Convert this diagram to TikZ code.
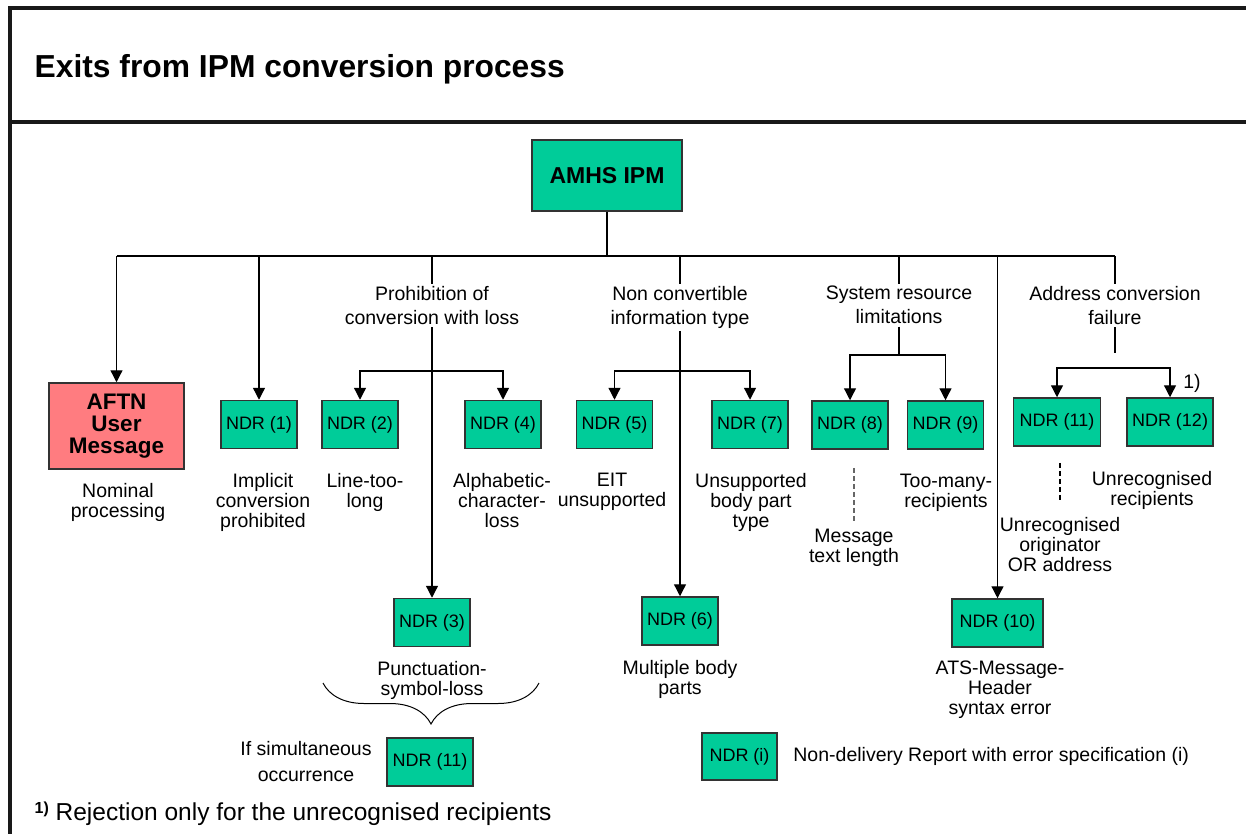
\documentclass[tikz,border=0pt]{standalone}
\usepackage{fontspec}
\setmainfont{Liberation Sans}
\usetikzlibrary{arrows.meta,decorations.pathreplacing}
\definecolor{ndrgreen}{RGB}{0,204,153}
\definecolor{aftnred}{RGB}{255,124,128}
\begin{document}
\begin{tikzpicture}[x=1pt,y=-1pt,line width=1.3pt,font=\fontsize{19.5}{20}\selectfont,
    box/.style={draw=black!80,line width=1.5pt,inner sep=0pt,minimum width=76pt,minimum height=48pt},
    ndr/.style={box,fill=ndrgreen,font=\fontsize{18}{20}\selectfont},
    exit/.style={align=center,inner sep=0pt,anchor=north,yshift=7.5pt},
    cause/.style={align=center,inner sep=2pt,anchor=north,yshift=9.5pt,font=\fontsize{19.5}{24}\selectfont},
    arr/.style={-{Triangle[length=12pt,width=12pt]}},
    hint/.style={dash pattern=on 5pt off 3pt,line width=1.2pt}]
  \useasboundingbox (0,0) rectangle (1246,834);
  \draw[line width=3.2pt,black!90] (1246,8) -- (10,8) -- (10,834);
  \draw[line width=3.2pt,black!90] (10,122) -- (1246,122);
  \node[anchor=base west,inner sep=0pt,font=\fontsize{31.8}{36}\selectfont\bfseries] (title) at (34,78) {Exits from IPM conversion process};

  \node[box,fill=ndrgreen,minimum width=150pt,minimum height=71pt,font=\fontsize{23}{26}\selectfont\bfseries] (ipm) at (607,175.5) {AMHS IPM};
  \node[box,fill=aftnred,minimum width=135pt,minimum height=86pt,align=center,font=\fontsize{22.5}{22}\selectfont\bfseries] (aftn) at (116.5,426) {AFTN\\User\\Message};
  \node[ndr] (n1) at (259,424.5) {NDR (1)};
  \node[ndr] (n2) at (360,424.5) {NDR (2)};
  \node[ndr] (n3) at (432,622.5) {NDR (3)};
  \node[ndr] (n4) at (503,424.5) {NDR (4)};
  \node[ndr] (n5) at (614.5,424.5) {NDR (5)};
  \node[ndr] (n6) at (680,621) {NDR (6)};
  \node[ndr] (n7) at (750,424.5) {NDR (7)};
  \node[ndr] (n8) at (850,425) {NDR (8)};
  \node[ndr] (n9) at (945.5,425) {NDR (9)};
  \node[ndr,minimum width=91pt] (n10) at (997.5,623) {NDR (10)};
  \node[ndr,minimum width=87pt] (n11) at (1057,422) {NDR (11)};
  \node[ndr,minimum width=86pt] (n12) at (1170,422) {NDR (12)};
  \node[ndr,minimum width=86pt] (n11b) at (430,762) {NDR (11)};
  \node[ndr,minimum width=75pt,minimum height=47pt] (key) at (739.5,756.5) {NDR (i)};

  \node[cause] (p) at (432,293) {Prohibition of\\conversion with loss};
  \node[cause] (nc) at (680,293) {Non convertible\\information type};
  \node[cause] (sr) at (899,293) {System resource\\limitations};
  \node[cause] (ac) at (1115,293) {Address conversion\\failure};

  \node[exit] (nom) at (118,490) {Nominal\\processing};
  \node[exit] (impl) at (263,480) {Implicit\\conversion\\prohibited};
  \node[exit] (ltl) at (365,480) {Line-too-\\long};
  \node[exit] (alpha) at (502,480) {Alphabetic-\\character-\\loss};
  \node[exit] (eit) at (612,480) {EIT\\unsupported};
  \node[exit] (unsup) at (751,480) {Unsupported\\body part\\type};
  \node[exit] (msg) at (854,536) {Message\\text length};
  \node[exit] (tmr) at (946,481) {Too-many-\\recipients};
  \node[exit] (orig) at (1060,524) {Unrecognised\\originator\\OR address};
  \node[exit] (urec) at (1152,478) {Unrecognised\\recipients};
  \node[exit] (punct) at (432,668) {Punctuation-\\symbol-loss};
  \node[exit] (multi) at (680,667) {Multiple body\\parts};
  \node[exit] (ats) at (1000,668) {ATS-Message-\\Header\\syntax error};

  \node (note) at (1192,383) {1)};
  \node[anchor=east,align=center,inner sep=0pt,font=\fontsize{19.5}{26}\selectfont] (simul) at ([xshift=-14pt]n11b.west) {If simultaneous\\occurrence};
  \node[anchor=west,inner sep=0pt] (keytext) at ([xshift=15pt]key.east) {Non-delivery Report with error specification (i)};
  \node[anchor=base west,inner sep=0pt,font=\fontsize{24.5}{28}\selectfont] (foot) at (34,820) {\raisebox{7pt}{\fontsize{16}{16}\selectfont\bfseries 1)} Rejection only for the unrecognised recipients};

  \coordinate (bus) at (607,256);
  \coordinate (pj) at (432,371);
  \coordinate (ncj) at (680,371);
  \coordinate (srj) at (899,355);
  \coordinate (acj) at (1115,353);
  \coordinate (acb) at (1115,368);
  \draw (ipm) -- (bus);
  \draw (aftn.north |- bus) -- (ac.north |- bus);
  \draw[arr] (aftn.north |- bus) -- (aftn);
  \draw[arr] (n1 |- bus) -- (n1);
  \foreach \c in {p,nc,sr,ac} \draw (\c.north |- bus) -- (\c);
  \draw[arr] (bus -| n10) -- (n10);
  \draw[arr] (p) -- (n3);
  \draw[arr] (pj) -| (n2);
  \draw[arr] (pj) -| (n4);
  \draw[arr] (nc) -- (n6);
  \draw[arr] (ncj) -| (n5);
  \draw[arr] (ncj) -| (n7);
  \draw (sr) -- (srj);
  \draw[arr] (srj) -| (n8);
  \draw[arr] (srj) -| (n9);
  \draw (ac) -- (acj);
  \draw[arr] (acb) -| (n11);
  \draw[arr] (acb) -| (n12);
  \draw[hint,black!60,shorten <=18pt,shorten >=8pt] (msg.north |- n8.south) -- (msg.north);
  \draw[hint,shorten <=16pt,shorten >=14pt] (orig.north |- n11.south) -- (orig.north);

  \coordinate (bl) at (323,683);
  \coordinate (br) at (539,683);
  \draw[decorate,decoration={brace,amplitude=41pt},line width=1pt] (br) -- (bl);
\end{tikzpicture}
\end{document}
